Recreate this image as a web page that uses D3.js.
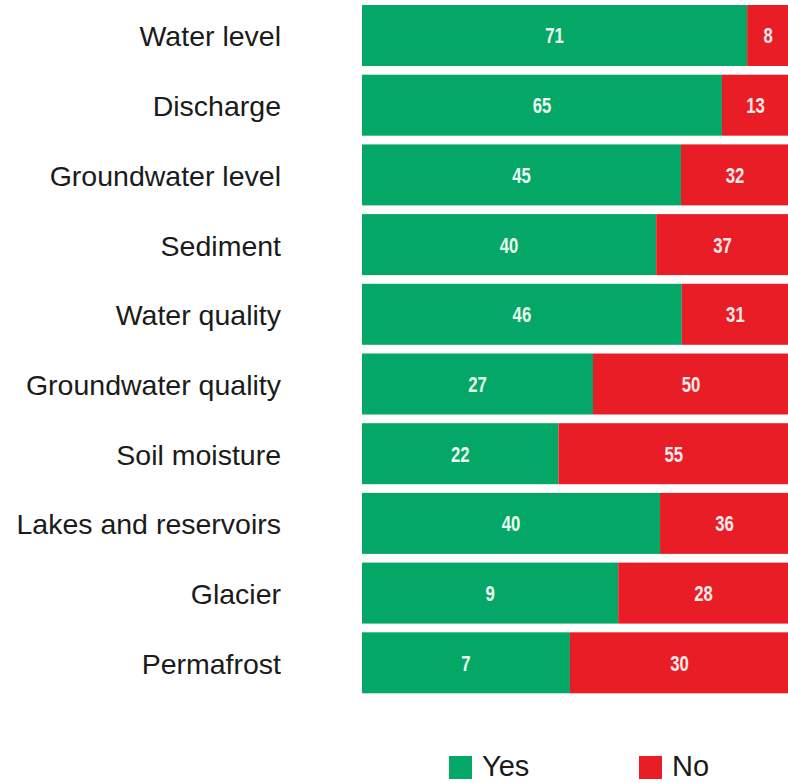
<!DOCTYPE html>
<html>
<head>
<meta charset="utf-8">
<script src="https://cdn.jsdelivr.net/npm/d3@7"></script>
<style>
  body { margin: 0; background: #fff; }
  svg { display: block; }
  .cat { font-family: "Liberation Sans", Arial, sans-serif; font-size: 28.5px; fill: #1b1b1b; }
  .val { font-family: "Liberation Sans", Arial, sans-serif; font-weight: bold; font-size: 22px; }
  .leg { font-family: "Liberation Sans", Arial, sans-serif; font-size: 29px; fill: #1b1b1b; }
</style>
</head>
<body>
<div id="chart"></div>
<script>
// rows, top to bottom
const categories = ["Water level", "Discharge", "Groundwater level", "Sediment", "Water quality",
  "Groundwater quality", "Soil moisture", "Lakes and reservoirs", "Glacier", "Permafrost"];
const yesValues = [71, 65, 45, 40, 46, 27, 22, 40, 9, 7];
const noValues = [8, 13, 32, 37, 31, 50, 55, 36, 28, 30];
// where the green part ends, in % of the bar length (as drawn in the picture)
const yesShare = [90.2, 84.3, 74.7, 68.9, 74.9, 54.1, 46.0, 69.8, 60.0, 48.7];
const seriesNames = ["Yes", "No"];

const width = 788, height = 783;
const green = "#05a766", red = "#e91d26";

const svg = d3.select("#chart").append("svg")
    .attr("width", width)
    .attr("height", height);

const x = d3.scaleLinear().domain([0, 100]).range([362, 789]);
const y = d3.scaleBand().domain(categories).range([5, 693.3]).paddingInner(0.125).paddingOuter(0);

const rows = categories.map((c, i) => ({cat: c, yes: yesValues[i], no: noValues[i], share: yesShare[i]}));

const row = svg.selectAll("g.row").data(rows).join("g").attr("class", "row");

row.append("rect")
    .attr("x", x(0))
    .attr("y", d => y(d.cat))
    .attr("width", d => x(d.share) - x(0))
    .attr("height", y.bandwidth())
    .attr("fill", green);

row.append("rect")
    .attr("x", d => x(d.share))
    .attr("y", d => y(d.cat))
    .attr("width", d => x(100) - x(d.share))
    .attr("height", y.bandwidth())
    .attr("fill", red);

// condensed look: squeeze the bold digits horizontally
const midY = d => y(d.cat) + y.bandwidth() / 2 + 8;

row.append("text")
    .attr("class", "val")
    .attr("transform", d => `translate(${(x(0) + x(d.share)) / 2},${midY(d)}) scale(0.76,1)`)
    .attr("text-anchor", "middle")
    .attr("fill", "#e9fbf1")
    .text(d => d.yes);

row.append("text")
    .attr("class", "val")
    .attr("transform", d => `translate(${(x(d.share) + x(100)) / 2},${midY(d)}) scale(0.76,1)`)
    .attr("text-anchor", "middle")
    .attr("fill", "#fbe9e9")
    .text(d => d.no);

row.append("text")
    .attr("class", "cat")
    .attr("x", 281)
    .attr("y", d => y(d.cat) + y.bandwidth() / 2 + 11)
    .attr("text-anchor", "end")
    .text(d => d.cat);

// legend
const legX = d3.scaleOrdinal().domain(seriesNames).range([449, 639]);
const legColor = d3.scaleOrdinal().domain(seriesNames).range([green, red]);

const leg = svg.selectAll("g.leg-item").data(seriesNames).join("g").attr("class", "leg-item");
leg.append("rect")
    .attr("x", d => legX(d))
    .attr("y", 756)
    .attr("width", 23)
    .attr("height", 23)
    .attr("fill", d => legColor(d));
leg.append("text")
    .attr("class", "leg")
    .attr("x", d => legX(d) + 33)
    .attr("y", 776)
    .text(d => d);
</script>
</body>
</html>
